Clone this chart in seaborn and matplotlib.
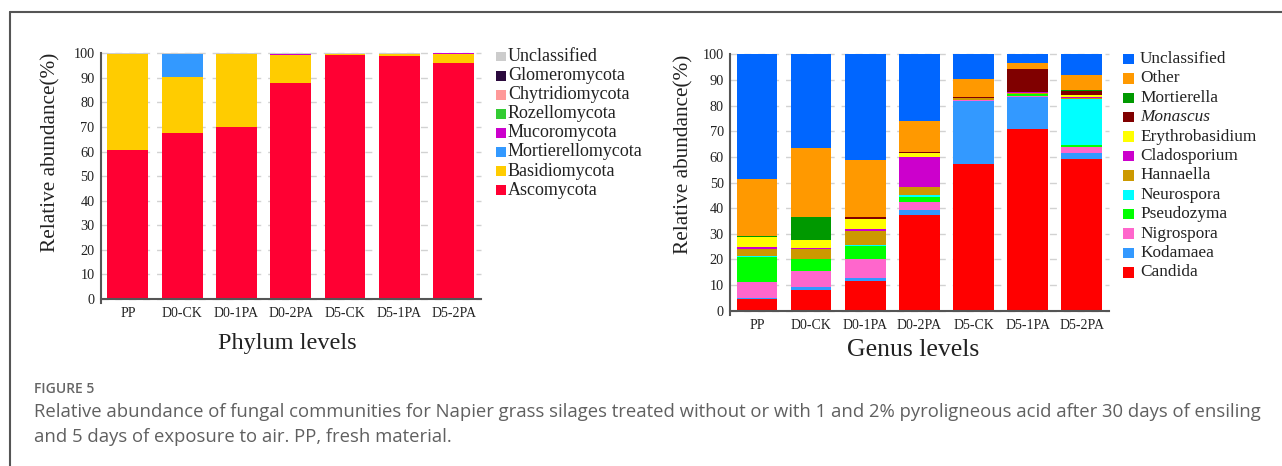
import matplotlib
matplotlib.use("Agg")
import matplotlib.pyplot as plt
from matplotlib.patches import Rectangle
from matplotlib.lines import Line2D
import numpy as np
import seaborn as sns

# ---------------- data ----------------
samples = ["PP", "D0-CK", "D0-1PA", "D0-2PA", "D5-CK", "D5-1PA", "D5-2PA"]

# Phylum level (stack order bottom -> top)
phylum_names = ["Ascomycota", "Basidiomycota", "Mortierellomycota", "Mucoromycota",
                "Rozellomycota", "Chytridiomycota", "Glomeromycota", "Unclassified"]
ascomycota        = [60.5, 67.4, 70.1, 87.8, 99.3, 98.9, 96.0]
basidiomycota     = [39.1, 22.8, 29.5, 11.5, 0.3, 1.0, 3.6]
mortierellomycota = [0.1, 9.4, 0.1, 0.1, 0.3, 0.0, 0.0]
mucoromycota      = [0.1, 0.3, 0.0, 0.5, 0.0, 0.0, 0.4]
rozellomycota     = [0.0, 0.0, 0.0, 0.0, 0.0, 0.0, 0.0]
chytridiomycota   = [0.0, 0.0, 0.0, 0.0, 0.0, 0.0, 0.0]
glomeromycota     = [0.0, 0.0, 0.0, 0.0, 0.0, 0.0, 0.0]
phylum_unclass    = [0.2, 0.1, 0.3, 0.1, 0.1, 0.1, 0.0]
phylum_colors = ["#FF0033", "#FFCC00", "#3399FF", "#CC00CC",
                 "#33CC33", "#FF9999", "#2B0A3D", "#CCCCCC"]

# Genus level (stack order bottom -> top)
genus_names = ["Candida", "Kodamaea", "Nigrospora", "Pseudozyma", "Neurospora", "Hannaella",
               "Cladosporium", "Erythrobasidium", "Monascus", "Mortierella", "Other", "Unclassified"]
candida         = [4.5, 8.2, 11.4, 37.4, 57.3, 70.8, 59.2]
kodamaea        = [0.3, 1.0, 1.5, 1.7, 24.5, 12.7, 2.5]
nigrospora      = [6.2, 6.1, 7.2, 3.2, 0.3, 0.4, 2.1]
pseudozyma      = [9.8, 4.8, 5.3, 2.0, 0.1, 0.6, 0.7]
neurospora      = [0.5, 0.2, 0.2, 0.8, 0.1, 0.1, 18.0]
hannaella       = [2.9, 3.7, 5.3, 3.1, 0.5, 0.3, 0.6]
cladosporium    = [0.6, 0.5, 0.8, 11.7, 0.1, 0.4, 0.3]
erythrobasidium = [3.9, 3.2, 4.1, 1.8, 0.1, 0.1, 0.6]
monascus        = [0.1, 0.0, 0.7, 0.1, 0.2, 8.9, 1.8]
mortierella     = [0.5, 9.0, 0.1, 0.1, 0.3, 0.1, 0.1]
other           = [22.2, 26.9, 22.0, 12.1, 7.0, 2.2, 6.2]
genus_unclass   = [48.5, 36.4, 41.4, 26.0, 9.5, 3.4, 7.9]
genus_colors = ["#FF0000", "#3399FF", "#FF66CC", "#00FF00", "#00FFFF", "#CC9900",
                "#CC00CC", "#FFFF00", "#800000", "#009900", "#FF9900", "#0066FF"]

phylum_series = [ascomycota, basidiomycota, mortierellomycota, mucoromycota,
                 rozellomycota, chytridiomycota, glomeromycota, phylum_unclass]
genus_series = [candida, kodamaea, nigrospora, pseudozyma, neurospora, hannaella,
                cladosporium, erythrobasidium, monascus, mortierella, other, genus_unclass]

# ---------------- style ----------------
sns.set_theme(style="white")
plt.rcParams["font.family"] = ["Liberation Serif", "DejaVu Serif"]

W, H = 1282, 466
fig = plt.figure(figsize=(W / 100, H / 100), dpi=100)
fig.patch.set_facecolor("white")


def fx(px):
    return px / W


def fy(py):
    return 1 - py / H


def make_axes(x0, x1, ytop, ybot):
    return fig.add_axes([fx(x0), fy(ybot), (x1 - x0) / W, (ybot - ytop) / H])


def draw_stack(ax, series, colors):
    bottom = np.zeros(len(samples))
    for vals, col in zip(series, colors):
        vals = np.asarray(vals, dtype=float)
        sns.barplot(x=samples, y=vals, order=samples, bottom=bottom, color=col,
                    saturation=1, width=0.75, errorbar=None, linewidth=0, ax=ax)
        bottom = bottom + vals
    ax.set_xlim(-0.5, 6.5)
    ax.set_ylim(0, 100)
    ax.set_yticks(np.arange(0, 101, 10))
    ax.set_yticklabels([str(v) for v in range(0, 101, 10)], fontsize=10.3, color="#222222")
    ax.tick_params(axis="x", length=0, pad=6, labelsize=10, labelcolor="#222222")
    ax.tick_params(axis="y", length=3, width=1, color="#555555", pad=1.5)
    ax.set_xlabel("")
    ax.set_ylabel("")
    ax.yaxis.grid(True, linestyle=(0, (5, 5)), color="#d2d2d2", linewidth=1)
    ax.xaxis.grid(False)
    ax.set_axisbelow(True)
    for gl in ax.get_ygridlines():
        gl.set_clip_on(False)
    for s in ["top", "right"]:
        ax.spines[s].set_visible(False)
    for s in ["left", "bottom"]:
        ax.spines[s].set_color("#555555")
        ax.spines[s].set_linewidth(1.5)
    ax.spines["left"].set_bounds(-1.6, 100)
    ax.set_facecolor("none")


def draw_legend(names, colors, x_sq, sq, x_txt, y0, pitch, fs):
    for i, (name, col) in enumerate(zip(reversed(names), reversed(colors))):
        yc = y0 + i * pitch
        fig.patches.append(Rectangle((fx(x_sq), fy(yc + sq / 2)), sq / W, sq / H,
                                     transform=fig.transFigure, facecolor=col,
                                     edgecolor="none", figure=fig))
        style = "italic" if name == "Monascus" else "normal"
        fig.text(fx(x_txt), fy(yc), name, fontsize=fs, va="center", ha="left",
                 color="#222222", style=style)


# ---------------- left: phylum ----------------
ax1 = make_axes(100.7, 480.8, 53.3, 299.0)
draw_stack(ax1, phylum_series, phylum_colors)
fig.text(fx(51), fy(53), "Relative abundance(%)", rotation=90, fontsize=15.3,
         va="top", ha="center", color="#222222")
fig.text(fx(287), fy(343), "Phylum levels", fontsize=17.5, va="center", ha="center",
         color="#222222")
draw_legend(phylum_names, phylum_colors, 496, 9.5, 508, 56.7, 19.05, 13)

# ---------------- right: genus ----------------
ax2 = make_axes(730.0, 1108.7, 54.3, 310.7)
draw_stack(ax2, genus_series, genus_colors)
fig.text(fx(684), fy(55), "Relative abundance(%)", rotation=90, fontsize=15.3,
         va="top", ha="center", color="#222222")
fig.text(fx(913), fy(350), "Genus levels", fontsize=18.5, va="center", ha="center",
         color="#222222")
draw_legend(genus_names, genus_colors, 1123, 10.5, 1140, 59.0, 19.4, 12.4)

# ---------------- frame + caption ----------------
fig.add_artist(Line2D([fx(10), fx(10)], [fy(12), fy(466)], transform=fig.transFigure,
                      color="#555555", linewidth=1.5))
fig.add_artist(Line2D([fx(10), fx(1282)], [fy(12), fy(12)], transform=fig.transFigure,
                      color="#555555", linewidth=1.5))

cap_font = ["Open Sans", "DejaVu Sans"]
fig.text(fx(34), fy(389), "FIGURE 5", fontsize=10, fontweight="semibold",
         family=cap_font, color="#666666", va="center", ha="left")
line1 = ("Relative abundance of fungal communities for Napier grass silages treated without "
         "or with 1 and 2% pyroligneous acid after 30 days of ensiling")
line2 = "and 5 days of exposure to air. PP, fresh material."
t1 = fig.text(fx(34), fy(412), line1, fontsize=12, family=cap_font, color="#606060",
              va="center", ha="left")
t2 = fig.text(fx(34), fy(437), line2, fontsize=12, family=cap_font, color="#606060",
              va="center", ha="left")
# calibrate caption size to the reference line width
fig.canvas.draw()
r = fig.canvas.get_renderer()
w = t1.get_window_extent(r).width
fs = 12 * (1224 / w)
t1.set_fontsize(fs)
t2.set_fontsize(fs)

fig.savefig("out.png", dpi=100, facecolor="white")
